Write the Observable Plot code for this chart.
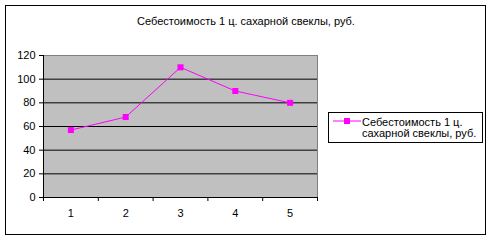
<!DOCTYPE html>
<html><head><meta charset="utf-8">
<script src="https://cdn.jsdelivr.net/npm/d3@7"></script>
<script src="https://cdn.jsdelivr.net/npm/@observablehq/plot@0.6"></script>
<style>
body{margin:0;background:#fff;}
#wrap{position:relative;width:492px;height:240px;font-family:"Liberation Sans",Arial,sans-serif;}
#border{position:absolute;left:5px;top:5px;width:479px;height:228px;border:1px solid #000;box-sizing:content-box;pointer-events:none;}
#title{position:absolute;left:0;width:492px;top:15px;text-align:center;font-size:11px;color:#000;}
#legend{position:absolute;left:328px;top:112px;width:153px;height:29px;border:1px solid #000;font-size:11px;line-height:11px;white-space:nowrap;}
#legend svg{position:absolute;left:4px;top:3px;}
#legend .t{position:absolute;left:33px;top:4px;}
</style>
</head><body>
<div id="wrap">
<div id="chart"></div>
<div id="border"></div>
<div id="title"></div>
<div id="legend"></div>
</div>
<script>
const title = "Себестоимость 1 ц. сахарной свеклы, руб.";
const seriesName = "Себестоимость 1 ц. сахарной свеклы, руб.";
const categories = [1, 2, 3, 4, 5];
const values = [57, 68, 110, 90, 80];
const yTicks = [0, 20, 40, 60, 80, 100, 120];
const color = "#ff00ff";

const data = categories.map((c, i) => ({x: c, y: values[i]}));
const bounds = [...categories.map(c => c - 0.5), categories[categories.length - 1] + 0.5];

const plot = Plot.plot({
  width: 492, height: 240,
  marginLeft: 43, marginRight: 175, marginTop: 55, marginBottom: 43,
  style: {fontFamily: "'Liberation Sans', Arial, sans-serif", fontSize: "11px", color: "#000", background: "transparent"},
  x: {type: "linear", domain: [bounds[0], bounds[bounds.length - 1]]},
  y: {domain: [0, 120]},
  marks: [
    Plot.frame({fill: "#c0c0c0", stroke: "#808080"}),
    Plot.gridY(yTicks.filter(v => v > 0 && v < 120), {stroke: "#000", strokeOpacity: 1}),
    Plot.ruleX([bounds[0]], {stroke: "#000"}),
    Plot.ruleY([0], {stroke: "#000"}),
    Plot.axisY(yTicks, {tickSize: 4, tickPadding: 4, label: null, stroke: "#000", fontSize: 11}),
    Plot.axisX(bounds, {tickSize: 4, tickFormat: () => "", label: null, stroke: "#000"}),
    Plot.axisX(categories, {tickSize: 0, tickPadding: 12, label: null, fontSize: 11}),
    Plot.line(data, {x: "x", y: "y", stroke: color, strokeWidth: 1}),
    Plot.dot(data, {x: "x", y: "y", symbol: "square", r: 3.4, fill: color, stroke: "none"})
  ]
});
document.getElementById("chart").appendChild(plot);
document.getElementById("title").textContent = title;

const lg = document.getElementById("legend");
const words = seriesName.split(" ");
const line1 = words.slice(0, 3).join(" ");
const line2 = words.slice(3).join(" ");
lg.innerHTML = `<svg width="28" height="10"><line x1="0" y1="5" x2="28" y2="5" stroke="${color}" stroke-width="1"/><rect x="11" y="2" width="6" height="6" fill="${color}"/></svg><div class="t"></div>`;
const t = lg.querySelector(".t");
t.appendChild(document.createTextNode(line1));
t.appendChild(document.createElement("br"));
t.appendChild(document.createTextNode(line2));
</script>
</body></html>
